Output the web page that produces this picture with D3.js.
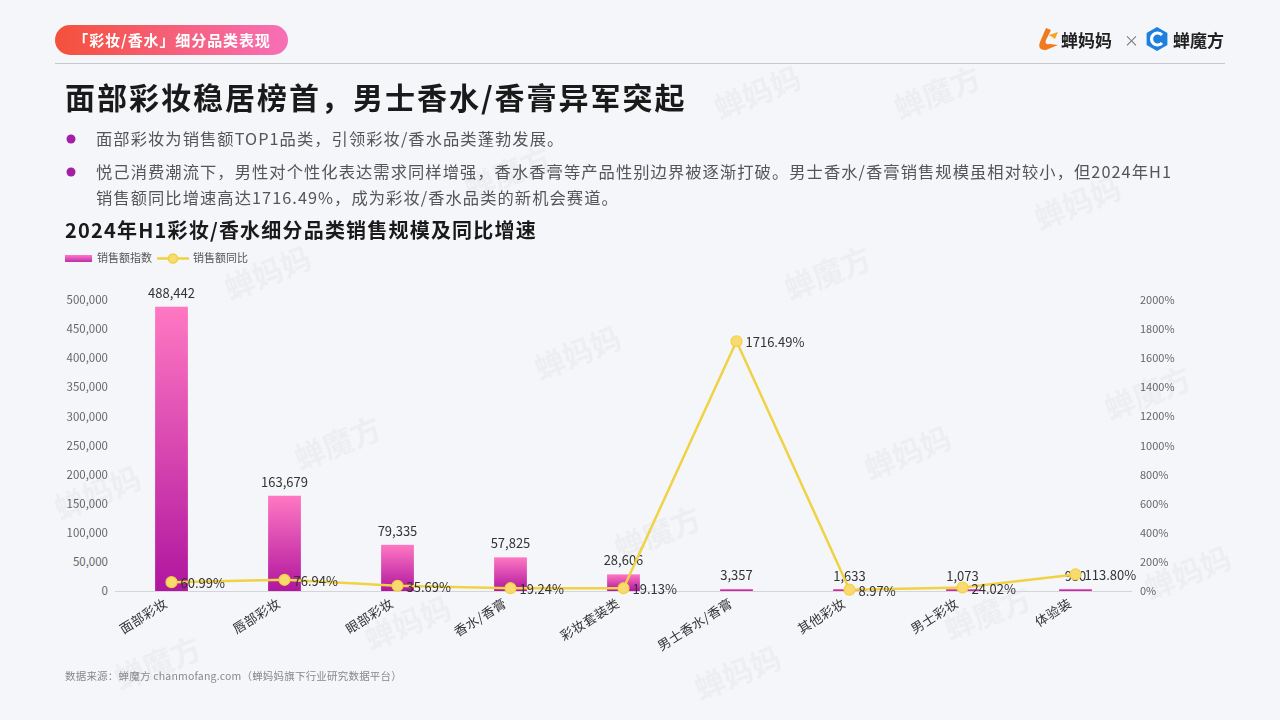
<!DOCTYPE html>
<html><head><meta charset="utf-8">
<script src="https://cdn.jsdelivr.net/npm/d3@7/dist/d3.min.js"></script>
<style>
html,body{margin:0;padding:0;background:#f5f6fa;}
svg{display:block;font-family:"Noto Sans CJK SC","Noto Sans",sans-serif;}
</style></head>
<body>
<svg id="c" width="1280" height="720"></svg>
<script>
const categories = ["面部彩妆","唇部彩妆","眼部彩妆","香水/香膏","彩妆套装类","男士香水/香膏","其他彩妆","男士彩妆","体验装"];
const salesIndex = [488442,163679,79335,57825,28606,3357,1633,1073,950];
const yoyGrowth = [60.99,76.94,35.69,19.24,19.13,1716.49,8.97,24.02,113.80];
const leftTicks = [0,50000,100000,150000,200000,250000,300000,350000,400000,450000,500000];
const rightTicks = [0,200,400,600,800,1000,1200,1400,1600,1800,2000];
const bullets = [
  ["面部彩妆为销售额TOP1品类，引领彩妆/香水品类蓬勃发展。"],
  ["悦己消费潮流下，男性对个性化表达需求同样增强，香水香膏等产品性别边界被逐渐打破。男士香水/香膏销售规模虽相对较小，但2024年H1","销售额同比增速高达1716.49%，成为彩妆/香水品类的新机会赛道。"]
];

const svg = d3.select("#c");
const defs = svg.append("defs");
const pg = defs.append("linearGradient").attr("id","pill").attr("x1","0").attr("x2","1");
pg.append("stop").attr("offset","0").attr("stop-color","#f4503a");
pg.append("stop").attr("offset","1").attr("stop-color","#f76fb8");
const bg = defs.append("linearGradient").attr("id","bar").attr("x1","0").attr("x2","0").attr("y1","0").attr("y2","1");
bg.append("stop").attr("offset","0").attr("stop-color","#ff78c2");
bg.append("stop").attr("offset","1").attr("stop-color","#b0169f");
const lg = defs.append("linearGradient").attr("id","lbar").attr("x1","0").attr("x2","0").attr("y1","0").attr("y2","1");
lg.append("stop").attr("offset","0").attr("stop-color","#ff78c2");
lg.append("stop").attr("offset","1").attr("stop-color","#c02cb0");

svg.append("rect").attr("width",1280).attr("height",720).attr("fill","#f5f6fa");

// faint watermarks (kept inside the frame)
const wm = svg.append("g").attr("fill","#000").attr("opacity",0.035).attr("font-size",30).attr("font-weight",700);
const wmPos = [[230,300],[470,200],[720,120],[900,120],[60,520],[300,470],[540,380],[790,300],[1040,230],[120,690],[370,650],[620,560],[870,480],[1110,420],[700,700],[950,640],[1150,600]];
wmPos.forEach((p,i)=>{
  wm.append("text").attr("transform",`translate(${p[0]},${p[1]}) rotate(-22)`).text(i%2? "蝉魔方" : "蝉妈妈");
});

// header pill
svg.append("rect").attr("x",55).attr("y",25).attr("width",233).attr("height",30).attr("rx",15).attr("fill","url(#pill)");
svg.append("text").attr("x",172).attr("y",46).attr("text-anchor","middle").attr("fill","#fff")
  .attr("font-size",15).attr("letter-spacing",0.9).attr("font-weight",700).text("「彩妆/香水」细分品类表现");
svg.append("line").attr("x1",55).attr("x2",1225).attr("y1",63.5).attr("y2",63.5).attr("stroke","#c8c9cf").attr("stroke-width",1.2);

// logos
const lo = svg.append("g");
lo.append("path").attr("d","M1046,28 L1040,42 Q1037,50 1046,50 L1058,45 L1050,44 Q1044,45 1046,40 L1051,30 Z").attr("fill","#f07a1c");
lo.append("path").attr("d","M1049,35 L1058,32 L1055,39 Z").attr("fill","#f5a623");
lo.append("text").attr("x",1061).attr("y",47).attr("font-size",17).attr("font-weight",700).attr("fill","#222").text("蝉妈妈");
lo.append("text").attr("x",1124).attr("y",46).attr("font-size",15).attr("fill","#777").text("×");
const hx = 1157, hy = 39, hr = 12;
lo.append("path").attr("d", d3.range(6).map((i)=>{const a=Math.PI/3*i+Math.PI/6;return (i?"L":"M")+(hx+hr*Math.cos(a))+","+(hy+hr*Math.sin(a));}).join("")+"Z").attr("fill","#1d7fe0");
lo.append("path").attr("d",`M${hx+5},${hy-4} A6,6 0 1 0 ${hx+5},${hy+4}`).attr("fill","none").attr("stroke","#fff").attr("stroke-width",3.2);
lo.append("text").attr("x",1173).attr("y",47).attr("font-size",17).attr("font-weight",700).attr("fill","#222").text("蝉魔方");

// title
svg.append("text").attr("x",65).attr("y",109).attr("font-size",30).attr("letter-spacing",2).attr("font-weight",700).attr("fill","#1a1a1a")
  .text("面部彩妆稳居榜首，男士香水/香膏异军突起");

// bullets
const by = [[145],[178,204]];
bullets.forEach((lines,i)=>{
  svg.append("circle").attr("cx",71).attr("cy",by[i][0]-6).attr("r",4.5).attr("fill","#a51fa6");
  lines.forEach((t,j)=>{
    svg.append("text").attr("x",96).attr("y",by[i][j]).attr("font-size",16.3).attr("letter-spacing",1.05).attr("fill","#555").text(t);
  });
});

// chart title
svg.append("text").attr("x",65).attr("y",238).attr("font-size",20).attr("letter-spacing",1.2).attr("font-weight",700).attr("fill","#1a1a1a")
  .text("2024年H1彩妆/香水细分品类销售规模及同比增速");

// legend
svg.append("rect").attr("x",65).attr("y",255).attr("width",27).attr("height",7).attr("fill","url(#lbar)");
svg.append("text").attr("x",97).attr("y",262).attr("font-size",11).attr("fill","#555").text("销售额指数");
svg.append("line").attr("x1",157).attr("x2",189).attr("y1",258.5).attr("y2",258.5).attr("stroke","#f0d040").attr("stroke-width",2.5);
svg.append("circle").attr("cx",173).attr("cy",258.5).attr("r",4.5).attr("fill","#f8dc72").attr("stroke","#f0d040").attr("stroke-width",1.5);
svg.append("text").attr("x",193).attr("y",262).attr("font-size",11).attr("fill","#555").text("销售额同比");

// scales
const x = d3.scaleBand().domain(categories).range([115,1132]).paddingInner(0.71).paddingOuter(0.355);
const yL = d3.scaleLinear().domain([0,500000]).range([591,300]);
const yR = d3.scaleLinear().domain([0,2000]).range([591,300]);
const cx = d => x(d) + x.bandwidth()/2;

// axes
const axL = svg.append("g").attr("transform","translate(115,0)")
  .call(d3.axisLeft(yL).tickValues(leftTicks).tickFormat(d3.format(",")).tickSize(0).tickPadding(7));
axL.select(".domain").remove();
axL.selectAll("text").attr("font-size",11.5).attr("fill","#666").attr("font-family","'Noto Sans CJK SC',sans-serif");
const axR = svg.append("g").attr("transform","translate(1132,0)")
  .call(d3.axisRight(yR).tickValues(rightTicks).tickFormat(d=>d+"%").tickSize(0).tickPadding(8));
axR.select(".domain").remove();
axR.selectAll("text").attr("font-size",11).attr("fill","#666").attr("font-family","'Noto Sans CJK SC',sans-serif");

svg.append("line").attr("x1",115).attr("x2",1132).attr("y1",591.5).attr("y2",591.5).attr("stroke","#d4d4da").attr("stroke-width",1);

// bars
svg.append("g").selectAll("rect").data(salesIndex).join("rect")
  .attr("x",(d,i)=>x(categories[i])).attr("width",x.bandwidth())
  .attr("y",d=>Math.min(yL(d),589)).attr("height",d=>591-Math.min(yL(d),589))
  .attr("fill","url(#bar)");

// bar labels
svg.append("g").selectAll("text").data(salesIndex).join("text")
  .attr("x",(d,i)=>cx(categories[i])).attr("y",d=>yL(d)-9)
  .attr("text-anchor","middle").attr("font-size",13).attr("fill","#333")
  .text(d=>d3.format(",")(d));

// line
const line = d3.line().x((d,i)=>cx(categories[i])).y(d=>yR(d));
svg.append("path").datum(yoyGrowth).attr("d",line).attr("fill","none").attr("stroke","#f0d242").attr("stroke-width",2.5);
svg.append("g").selectAll("circle").data(yoyGrowth).join("circle")
  .attr("cx",(d,i)=>cx(categories[i])).attr("cy",d=>yR(d)).attr("r",5.5)
  .attr("fill","#f8da70").attr("stroke","#f0d242").attr("stroke-width",1.2);
svg.append("g").selectAll("text").data(yoyGrowth).join("text")
  .attr("x",(d,i)=>cx(categories[i])+9).attr("y",d=>yR(d)+6)
  .attr("font-size",13).attr("fill","#333")
  .text(d=>d.toFixed(2)+"%");

// x labels
svg.append("g").selectAll("text").data(categories).join("text")
  .attr("transform",d=>`translate(${cx(d)-3},${606}) rotate(-32)`)
  .attr("text-anchor","end").attr("font-size",13).attr("letter-spacing",0.3).attr("fill","#333").text(d=>d);

// source
svg.append("text").attr("x",65).attr("y",680).attr("font-size",10.5).attr("letter-spacing",0.2).attr("fill","#888")
  .text("数据来源：蝉魔方 chanmofang.com（蝉妈妈旗下行业研究数据平台）");
</script>
</body></html>
